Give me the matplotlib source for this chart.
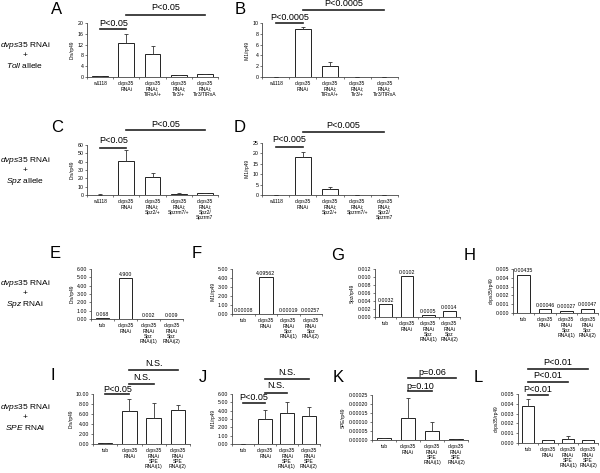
import matplotlib
matplotlib.use("Agg")
import matplotlib.pyplot as plt
import matplotlib.transforms as mtransforms
import numpy as np

plt.rcParams['font.family'] = ['Liberation Sans', 'DejaVu Sans']
plt.rcParams['mathtext.fontset'] = 'custom'
plt.rcParams['mathtext.rm'] = 'Liberation Sans'
plt.rcParams['mathtext.it'] = 'Liberation Sans:italic'

# ---------------- data ----------------
cats_toll = ["w1118", "dvps35\nRNAi", "dvps35\nRNAi;\nTlRxA/+", "dvps35\nRNAi;\nTlr3/+",
             "dvps35\nRNAi;\nTlr3/TlRxA"]
cats_spz = ["w1118", "dvps35\nRNAi", "dvps35\nRNAi;\nSpz2/+", "dvps35\nRNAi;\nSpzrm7/+",
            "dvps35\nRNAi;\nSpz2/\nSpzrm7"]
cats_spzrnai = ["tub", "dvps35\nRNAi", "dvps35\nRNAi\nSpz\nRNAi(1)", "dvps35\nRNAi\nSpz\nRNAi(2)"]
cats_spe = ["tub", "dvps35\nRNAi", "dvps35\nRNAi\nSPE\nRNAi(1)", "dvps35\nRNAi\nSPE\nRNAi(2)"]

a_drs = [0.3, 12.7, 8.6, 0.6, 1.0]
a_err = [0.2, 3.3, 3.0, 0.2, 0.2]
b_im1 = [0.05, 8.9, 2.1, 0.05, 0.05]
b_err = [0.0, 0.4, 0.7, 0.0, 0.0]
c_drs = [0.5, 40.5, 21.5, 1.5, 1.8]
c_err = [0.3, 13.0, 4.5, 0.5, 0.5]
d_im1 = [0.1, 18.1, 2.9, 0.1, 0.1]
d_err = [0.0, 2.4, 1.1, 0.0, 0.0]
e_drs = [0.068, 4.900, 0.002, 0.009]
f_im1 = [0.00008, 4.09562, 0.00019, 0.00257]
g_spz = [0.0032, 0.0102, 0.0005, 0.0014]
h_dvps35 = [0.00435, 0.00046, 0.00027, 0.00047]
i_drs = [0.15, 6.7, 5.2, 6.9]
i_err = [0.05, 2.4, 3.0, 1.0]
j_im1 = [0.03, 3.0, 3.7, 3.4]
j_err = [0.0, 1.1, 1.3, 1.0]
k_spe = [0.00001, 0.000125, 0.00005, 0.000005]
k_err = [0.000002, 0.00011, 0.00005, 0.000002]
l_dvps35 = [0.0038, 0.0003, 0.00045, 0.0003]
l_err = [0.0007, 0.00005, 0.0003, 0.00003]

W, H = 600, 473
fig = plt.figure(figsize=(W / 100, H / 100), dpi=100)
fig.patch.set_facecolor('white')

EDGE = '#222222'


def panel(rect, cats, vals, err, ylim, yticks, fmt, ylabel, letter, letter_xy,
          annots=(), value_fmt=None):
    x0, y0, x1, y1 = rect
    ax = fig.add_axes([x0 / W, 1 - y1 / H, (x1 - x0) / W, (y1 - y0) / H])
    n = len(cats)
    x = np.arange(n)
    ax.bar(x, vals, width=0.6, color='white', edgecolor=EDGE, linewidth=0.7, zorder=2)
    if err is not None:
        ax.errorbar(x, vals, yerr=[np.zeros(n), err], fmt='none', ecolor='#333333',
                    elinewidth=0.6, capsize=1.2, capthick=0.6, zorder=3)
    ax.set_xlim(-0.5, n - 0.5)
    ax.set_ylim(*ylim)
    for s in ['top', 'right']:
        ax.spines[s].set_visible(False)
    for s in ['left', 'bottom']:
        ax.spines[s].set_linewidth(0.6)
        ax.spines[s].set_color('#444444')
    ax.set_yticks(yticks)
    ax.set_yticklabels([fmt % t for t in yticks])
    ax.tick_params(axis='y', length=1.5, width=0.5, pad=1, labelsize=3.8, color='#444444')
    ax.set_xticks(x)
    ax.set_xticklabels(cats, fontsize=3.6, linespacing=1.1)
    ax.set_xticks(np.arange(n + 1) - 0.5, minor=True)
    ax.tick_params(axis='x', which='major', length=0, pad=3)
    ax.tick_params(axis='x', which='minor', length=1.5, width=0.5, color='#444444')
    ax.set_ylabel(ylabel, fontsize=3.4, labelpad=2)
    tr = mtransforms.blended_transform_factory(ax.transData, ax.transAxes)
    for (i, j, txt, lf, tf) in annots:
        ax.plot([i, j], [lf, lf], transform=tr, color=EDGE, lw=1.2, clip_on=False)
        ax.text((i + j) / 2, tf, txt, transform=tr, ha='center', va='center',
                fontsize=6.5, clip_on=False)
    if value_fmt is not None:
        for i, v in enumerate(vals):
            ax.annotate(value_fmt % v, (i, v), xytext=(0, 1), textcoords='offset points',
                        ha='center', va='bottom', fontsize=3.8)
    fig.text(letter_xy[0] / W, 1 - letter_xy[1] / H, letter, fontsize=12,
             ha='center', va='center')
    return ax


# Row 1: Toll allele
panel((87, 23, 218, 77), cats_toll, a_drs, a_err, (0, 20), np.arange(0, 21, 4), '%d',
      'Drs/rp49', 'A', (57, 10),
      [(0, 1, 'P<0.05', 0.89, 1.0), (1, 4, 'P<0.05', 1.15, 1.28)])
panel((262, 23, 398, 77), cats_toll, b_im1, b_err, (0, 10), np.arange(0, 11, 2), '%d',
      'IM1/rp49', 'B', (240, 10),
      [(0, 1, 'P<0.0005', 1.0, 1.11), (1, 4, 'P<0.0005', 1.24, 1.37)])

# Row 2: Spz allele
panel((87, 145, 218, 195), cats_spz, c_drs, c_err, (0, 60), np.arange(0, 61, 10), '%d',
      'Drs/rp49', 'C', (57, 127),
      [(0, 1, 'P<0.05', 0.95, 1.1), (1, 4, 'P<0.05', 1.3, 1.42)])
panel((262, 143, 398, 195), cats_spz, d_im1, d_err, (0, 25), np.arange(0, 26, 5), '%d',
      'IM1/rp49', 'D', (240, 127),
      [(0, 1, 'P<0.005', 0.93, 1.06), (1, 4, 'P<0.005', 1.22, 1.33)])

# Row 3: Spz RNAi
panel((91, 269, 183, 319), cats_spzrnai, e_drs, None, (0, 6), np.arange(0, 6.01, 1), '%.2f',
      'Drs/rp49', 'E', (55, 253), value_fmt='%.3f')
panel((232, 269, 322, 314), cats_spzrnai, f_im1, None, (0, 5), np.arange(0, 5.01, 1), '%.2f',
      'IM1/rp49', 'F', (197, 253), value_fmt='%.5f')
panel((375, 269, 460, 317), cats_spzrnai, g_spz, None, (0, 0.012),
      np.arange(0, 0.01201, 0.002), '%.3f', 'Spz/rp49', 'G', (338, 255), value_fmt='%.4f')
panel((513, 269, 598, 313), cats_spzrnai, h_dvps35, None, (0, 0.005),
      np.arange(0, 0.00501, 0.001), '%.3f', 'dvps35/rp49', 'H', (470, 255), value_fmt='%.5f')

# Row 4: SPE RNAi
panel((93, 394, 190, 444), cats_spe, i_drs, i_err, (0, 10), np.arange(0, 10.01, 2), '%.2f',
      'Drs/rp49', 'I', (53, 375),
      [(0, 1, 'P<0.05', 1.0, 1.1), (1, 2, 'N.S.', 1.21, 1.33), (1, 3, 'N.S.', 1.48, 1.6)])
panel((232, 394, 320, 444), cats_spe, j_im1, j_err, (0, 6), np.arange(0, 6.01, 1), '%.2f',
      'IM1/rp49', 'J', (203, 378),
      [(0, 1, 'P<0.05', 0.83, 0.93), (1, 2, 'N.S.', 1.03, 1.17), (1, 3, 'N.S.', 1.31, 1.43)])
panel((372, 395, 468, 440), cats_spe, k_spe, k_err, (0, 0.00025),
      np.arange(0, 0.000251, 0.00005), '%.5f', 'SPE/rp49', 'K', (338, 378),
      [(1, 2, 'p=0.10', 1.1, 1.2), (1, 3, 'p=0.06', 1.38, 1.5)])
panel((518, 394, 598, 443), cats_spe, l_dvps35, l_err, (0, 0.005),
      np.arange(0, 0.00501, 0.001), '%.3f', 'dvps35/rp49', 'L', (478, 377),
      [(0, 1, 'P<0.01', 0.98, 1.1), (0, 2, 'P<0.01', 1.24, 1.37), (0, 3, 'P<0.01', 1.52, 1.64)])

# Row labels
row_labels = [
    ("$\\mathit{dvps35}$ RNAi\n+\n$\\mathit{Toll}$ allele", 55),
    ("$\\mathit{dvps35}$ RNAi\n+\n$\\mathit{Spz}$ allele", 171),
    ("$\\mathit{dvps35}$ RNAi\n+\n$\\mathit{Spz}$ RNAi", 294),
    ("$\\mathit{dvps35}$ RNAi\n+\n$\\mathit{SPE}$ RNAi", 417),
]
for txt, yc in row_labels:
    fig.text(25 / W, 1 - yc / H, txt, fontsize=6, ha='center', va='center',
             multialignment='center', linespacing=1.3)

fig.savefig('out.png', dpi=100, facecolor='white')
